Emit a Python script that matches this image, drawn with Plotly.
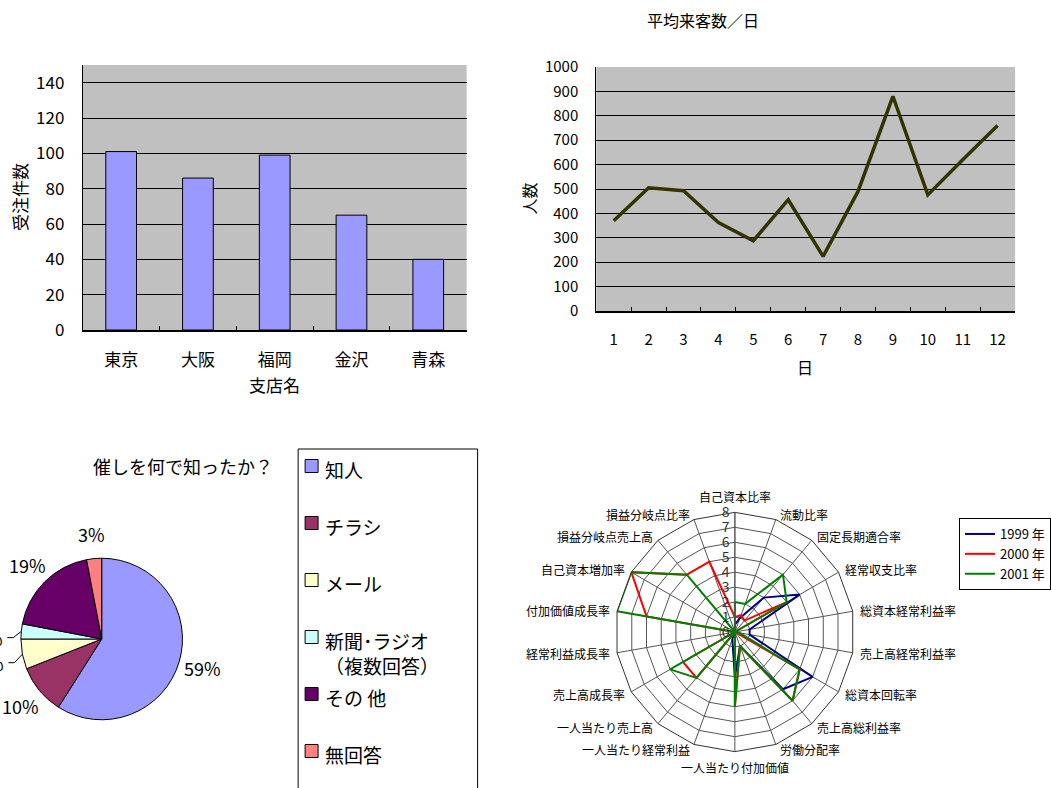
import numpy as np
import plotly.graph_objects as go

W, H = 1051, 788
# horizontal span that the page actually lays the figure out on
XSPAN = 1043
FONT = "Noto Sans CJK JP"


def fx(p):
    return p / XSPAN


def fy(p):
    return 1 - p / H


# ---- 受注件数 (bar) ----
branches = ["東京", "大阪", "福岡", "金沢", "青森"]
orders = [101, 86, 99, 65, 40]

# ---- 平均来客数／日 (line) ----
days = ["1", "2", "3", "4", "5", "6", "7", "8", "9", "10", "11", "12"]
visitors = [370, 505, 493, 363, 288, 456, 224, 490, 880, 476, 620, 760]

# ---- 催しを何で知ったか？ (pie) ----
sources = ["知人", "チラシ", "メール", "新聞･ラジオ<br>（複数回答）", "その 他", "無回答"]
source_pct = [59, 10, 6, 3, 19, 3]
source_colors = ["#9999FF", "#993366", "#FFFFCC", "#CCFFFF", "#660066", "#FF8080"]

# ---- 経営指標 (radar) ----
indicators = [
    "自己資本比率", "流動比率", "固定長期適合率", "経常収支比率",
    "総資本経常利益率", "売上高経常利益率", "総資本回転率", "売上高総利益率",
    "労働分配率", "一人当たり付加価値", "一人当たり経常利益", "一人当たり売上高",
    "売上高成長率", "経常利益成長率", "付加価値成長率", "自己資本増加率",
    "損益分岐点売上高", "損益分岐点比率",
]
years = ["1999 年", "2000 年", "2001 年"]
score_1999 = [0.5, 1, 3, 5, 1, 1, 6, 5, 1, 3, 0.5, 0, 0, 0, 0, 0, 0, 0]
score_2000 = [1, 1.2, 1, 4, 0, 0, 5, 6, 1, 5, 0, 4, 4, 0, 6, 8, 5, 5]
score_2001 = [2, 2, 5, 4, 0, 0.3, 5, 6, 1, 5, 0, 4, 5, 0, 8, 8, 5, 0]
year_colors = ["#000080", "#FF0000", "#008000"]

fig = go.Figure()

# bar chart
fig.add_trace(go.Bar(
    x=branches, y=orders, xaxis="x", yaxis="y", width=0.4,
    marker=dict(color="#9999FF", line=dict(color="black", width=1)),
    showlegend=False,
))

# line chart
fig.add_trace(go.Scatter(
    x=days, y=visitors, xaxis="x2", yaxis="y2", mode="lines",
    line=dict(color="#333300", width=3.5), showlegend=False,
))

# pie chart
PIE_CX, PIE_CY, PIE_R = 102, 639, 81
fig.add_trace(go.Pie(
    labels=sources, values=source_pct, sort=False, direction="clockwise",
    rotation=0, textinfo="none", hoverinfo="label+percent",
    marker=dict(colors=source_colors, line=dict(color="black", width=1)),
    domain=dict(x=[fx(PIE_CX - PIE_R), fx(PIE_CX + PIE_R)],
                y=[fy(PIE_CY + PIE_R), fy(PIE_CY - PIE_R)]),
    showlegend=False,
))

# radar chart
RAD_CX, RAD_CY, RAD_R = 737, 632, 120
for name, vals, col in zip(years, [score_1999, score_2000, score_2001], year_colors):
    fig.add_trace(go.Scatterpolar(
        r=vals + vals[:1], theta=indicators + indicators[:1], mode="lines",
        name=name, line=dict(color=col, width=2), subplot="polar",
    ))

annotations = []
shapes = []


def label(text, x, y, size, xanchor="center", yanchor="middle", **kw):
    annotations.append(dict(text=text, x=fx(x), y=fy(y), xref="paper", yref="paper",
                            xanchor=xanchor, yanchor=yanchor, showarrow=False,
                            font=dict(size=size), **kw))


# bar chart titles
label("支店名", 275, 385, 17)
label("受注件数", 19, 197, 17, textangle=-90)

# line chart titles
label("平均来客数／日", 705, 20, 16)
label("人数", 531, 198, 16, textangle=-90)
label("日", 807, 353, 16, yanchor="top")

# pie title
label("催しを何で知ったか？", 184, 466, 18)

# pie percentage labels; thin slices on the left get a leader line
total = sum(source_pct)
cum = np.cumsum(source_pct)
for v, c in zip(source_pct, cum):
    ang = 2 * np.pi * (c - v / 2) / total
    sx, sy = np.sin(ang), -np.cos(ang)
    small_left = v / total < 0.07 and sx < -0.5
    if small_left:
        x0, y0 = PIE_CX + 1.0 * PIE_R * sx, PIE_CY + 1.0 * PIE_R * sy
        x1, y1 = PIE_CX + 1.1 * PIE_R * sx, PIE_CY + 1.1 * PIE_R * sy + 7
        shapes.append(dict(type="line", xref="paper", yref="paper",
                           x0=fx(x0), y0=fy(y0), x1=fx(x1), y1=fy(y1),
                           line=dict(color="black", width=1)))
        shapes.append(dict(type="line", xref="paper", yref="paper",
                           x0=fx(x1), y0=fy(y1), x1=fx(x1 - 6), y1=fy(y1),
                           line=dict(color="black", width=1)))
        label(f"{v}%", x1 - 8, y1, 18, xanchor="right")
    else:
        rr = 1.3 * PIE_R
        label(f"{v}%", PIE_CX + rr * sx, PIE_CY + rr * sy, 18)

# pie legend box
shapes.append(dict(type="rect", xref="paper", yref="paper",
                   x0=fx(299), x1=fx(479), y0=fy(800), y1=fy(449),
                   line=dict(color="black", width=1), fillcolor="white", layer="below"))
for i, (lab, col) in enumerate(zip(sources, source_colors)):
    yc = 466 + i * 57
    shapes.append(dict(type="rect", xref="paper", yref="paper",
                       x0=fx(306), x1=fx(319), y0=fy(yc + 6.5), y1=fy(yc - 6.5),
                       line=dict(color="black", width=1), fillcolor=col))
    label(lab, 324, yc - 12, 19, xanchor="left", yanchor="top", align="left")

# radar category labels, anchored at the end of each spoke
LABEL_R = 125
n_ind = len(indicators)
for i, name in enumerate(indicators):
    a = np.deg2rad(90 - 360 * i / n_ind)
    ca, sa = np.cos(a), np.sin(a)
    px_, py_ = RAD_CX + LABEL_R * ca, RAD_CY - LABEL_R * sa
    xa = "left" if ca > 0.1 else ("right" if ca < -0.1 else "center")
    ya = "bottom" if sa > 0.95 else ("top" if sa < -0.95 else "middle")
    label(name, px_, py_, 12, xanchor=xa, yanchor=ya)

fig.update_layout(
    width=W, height=H, autosize=False,
    margin=dict(l=0, r=0, t=0, b=0, pad=0),
    paper_bgcolor="white", plot_bgcolor="#C0C0C0",
    font=dict(family=FONT, color="black"),
    xaxis=dict(domain=[fx(83), fx(468)], anchor="y", type="category", automargin=False,
               showline=True, linecolor="black", linewidth=1.5,
               ticks="inside", tickson="boundaries", ticklen=4, tickcolor="black",
               tickfont=dict(size=17), ticklabelstandoff=14, showgrid=False),
    yaxis=dict(domain=[fy(330), fy(65)], anchor="x", range=[0, 150], dtick=20,
               automargin=False, showline=True, linecolor="black", linewidth=1,
               showgrid=True, gridcolor="black", gridwidth=1, zeroline=False,
               ticks="", tickfont=dict(size=17), ticklabelstandoff=14),
    xaxis2=dict(domain=[fx(598), fx(1018)], anchor="y2", type="category", automargin=False,
                range=[-0.5, 11.5],
                showline=True, linecolor="black", linewidth=1.5,
                ticks="inside", tickson="boundaries", ticklen=4, tickcolor="black",
                tickfont=dict(size=15), ticklabelstandoff=14, showgrid=False),
    yaxis2=dict(domain=[fy(311), fy(67)], anchor="x2", range=[0, 1000], dtick=100,
                automargin=False, showline=True, linecolor="black", linewidth=1,
                showgrid=True, gridcolor="black", gridwidth=1, zeroline=False,
                ticks="", tickfont=dict(size=15), ticklabelstandoff=14),
    polar=dict(
        domain=dict(x=[fx(RAD_CX - RAD_R), fx(RAD_CX + RAD_R)],
                    y=[fy(RAD_CY + RAD_R), fy(RAD_CY - RAD_R)]),
        bgcolor="white", gridshape="linear",
        radialaxis=dict(range=[0, 8], dtick=1, angle=90, tickangle=90,
                        side="counterclockwise", showline=True, linecolor="#555555",
                        gridcolor="#555555", gridwidth=1, ticks="",
                        tickfont=dict(size=14, color="#333333")),
        angularaxis=dict(rotation=90, direction="clockwise", showline=True,
                         linecolor="#333333", gridcolor="#555555", ticks="",
                         showticklabels=False),
    ),
    legend=dict(x=fx(962), y=fy(518), xanchor="left", yanchor="top",
                bordercolor="black", borderwidth=1, bgcolor="white",
                font=dict(size=13), itemwidth=30, tracegroupgap=0),
    annotations=annotations, shapes=shapes,
)

fig.write_html("out.html")
